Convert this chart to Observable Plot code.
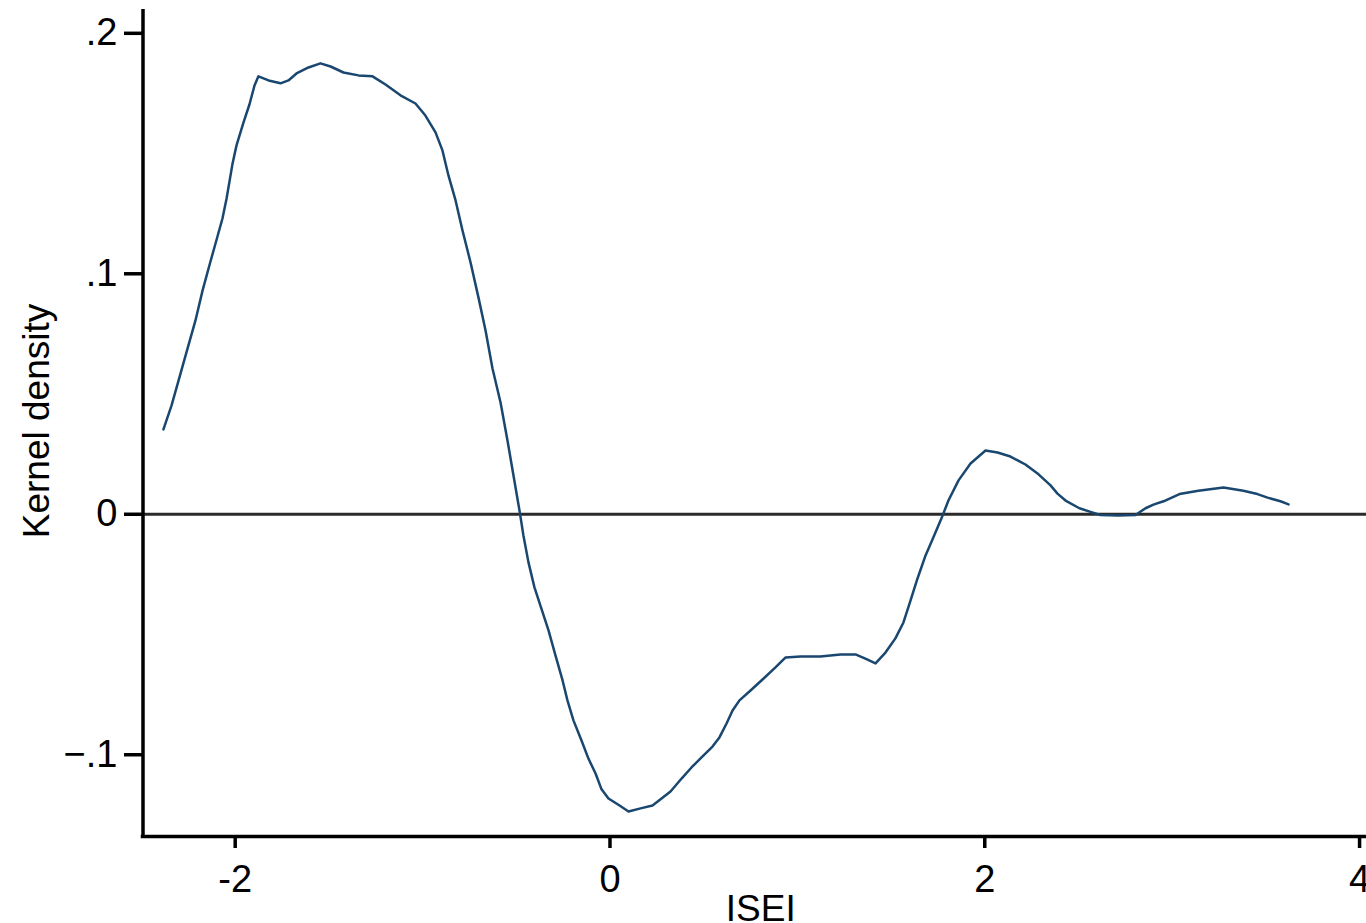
<!DOCTYPE html>
<html>
<head>
<meta charset="utf-8">
<script src="https://cdn.jsdelivr.net/npm/d3@7"></script>
<script src="https://cdn.jsdelivr.net/npm/@observablehq/plot@0.6"></script>
<style>
  html, body { margin: 0; padding: 0; background: #fff; }
</style>
</head>
<body>
<div id="chart"></div>
<script>
// Kernel density curve (ISEI vs density)
const isei = [
  -2.383, -2.340, -2.308, -2.265, -2.212, -2.174, -2.132, -2.105, -2.068, -2.046,
  -2.014, -1.993, -1.956, -1.924, -1.897, -1.876, -1.822, -1.758, -1.716, -1.673,
  -1.609, -1.545, -1.491, -1.422, -1.342, -1.267, -1.198, -1.118, -1.038, -0.985,
  -0.931, -0.894, -0.862, -0.824, -0.787, -0.744, -0.702, -0.664, -0.627, -0.584,
  -0.547, -0.515, -0.483, -0.462, -0.435, -0.403, -0.366, -0.328, -0.291, -0.253,
  -0.227, -0.195, -0.152, -0.115, -0.077, -0.045, -0.008, 0.051, 0.099, 0.163,
  0.227, 0.275, 0.323, 0.382, 0.435, 0.494, 0.547, 0.584, 0.622, 0.654,
  0.691, 0.750, 0.814, 0.883, 0.936, 1.017, 1.123, 1.230, 1.310, 1.363,
  1.417, 1.470, 1.523, 1.566, 1.604, 1.641, 1.684, 1.726, 1.769, 1.806,
  1.860, 1.924, 2.004, 2.068, 2.137, 2.217, 2.287, 2.351, 2.388, 2.431,
  2.505, 2.564, 2.617, 2.713, 2.804, 2.858, 2.900, 2.954, 3.039, 3.140,
  3.274, 3.380, 3.455, 3.509, 3.578, 3.621
];
const density = [
  0.0353, 0.0452, 0.0540, 0.0660, 0.0806, 0.0931, 0.1051, 0.1126, 0.1230, 0.1313,
  0.1459, 0.1534, 0.1629, 0.1704, 0.1783, 0.1821, 0.1804, 0.1792, 0.1804, 0.1833,
  0.1858, 0.1875, 0.1862, 0.1837, 0.1825, 0.1821, 0.1787, 0.1742, 0.1708, 0.1658,
  0.1588, 0.1513, 0.1409, 0.1305, 0.1180, 0.1047, 0.0902, 0.0764, 0.0606, 0.0465,
  0.0307, 0.0161, 0.0016, -0.0088, -0.0200, -0.0304, -0.0392, -0.0483, -0.0587, -0.0691,
  -0.0774, -0.0857, -0.0941, -0.1016, -0.1078, -0.1144, -0.1182, -0.1211, -0.1236, -0.1223,
  -0.1211, -0.1182, -0.1153, -0.1099, -0.1053, -0.1007, -0.0966, -0.0928, -0.0870, -0.0816,
  -0.0774, -0.0733, -0.0687, -0.0637, -0.0596, -0.0591, -0.0591, -0.0583, -0.0583, -0.0600,
  -0.0620, -0.0575, -0.0516, -0.0450, -0.0358, -0.0267, -0.0171, -0.0096, -0.0017, 0.0057,
  0.0141, 0.0211, 0.0265, 0.0257, 0.0240, 0.0207, 0.0166, 0.0120, 0.0086, 0.0057,
  0.0025, 0.0010, -0.0003, -0.0005, -0.0003, 0.0025, 0.0040, 0.0054, 0.0084, 0.0098,
  0.0111, 0.0098, 0.0084, 0.0069, 0.0054, 0.0041
];
const xTicks = [-2, 0, 2, 4];
const yTicks = [-0.1, 0, 0.1, 0.2];
const xLabel = "ISEI";
const yLabel = "Kernel density";

const data = isei.map((x, i) => ({x, y: density[i]}));
const xDomain = [-2.492, 4.037];
const yDomain = [-0.134, 0.2099];
const font = "'Liberation Sans', Arial, sans-serif";
const yFmt = v => v === 0 ? "0" : d3.format(".1f")(v).replace("0.", ".");

const chart = Plot.plot({
  width: 1366,
  height: 923,
  marginLeft: 142.5,
  marginRight: 0,
  marginTop: 9,
  marginBottom: 87,
  style: {fontFamily: font, fontSize: "38px", background: "#fff", color: "#000", overflow: "visible"},
  x: {domain: xDomain, label: null},
  y: {domain: yDomain, label: null},
  marks: [
    Plot.axisX({ticks: xTicks, tickSize: 12, tickPadding: 17, strokeWidth: 3.5, fontSize: 38, tickFormat: d => String(d), label: null}),
    Plot.axisY({ticks: yTicks, tickSize: 18.5, tickPadding: 7, strokeWidth: 3.5, fontSize: 38, tickFormat: yFmt, label: null}),
    Plot.ruleY([0], {stroke: "#2b2b2b", strokeWidth: 3}),
    Plot.line(data, {x: "x", y: "y", stroke: "#1a476f", strokeWidth: 2.5, curve: "linear"}),
    Plot.ruleX([xDomain[0]], {stroke: "#000", strokeWidth: 3.5, insetBottom: -1.75}),
    Plot.ruleY([yDomain[0]], {stroke: "#000", strokeWidth: 3.5, insetLeft: -1.75}),
    Plot.text([yLabel], {text: d => d, frameAnchor: "left", rotate: -90, textAnchor: "middle", lineAnchor: "bottom", dx: -94.5, dy: -2, fontSize: 37, fill: "#000"}),
    Plot.text([xLabel], {text: d => d, frameAnchor: "bottom", textAnchor: "middle", lineAnchor: "bottom", dx: 6, dy: 84, fontSize: 37, fill: "#000"})
  ]
});
document.getElementById("chart").appendChild(chart);
</script>
</body>
</html>
